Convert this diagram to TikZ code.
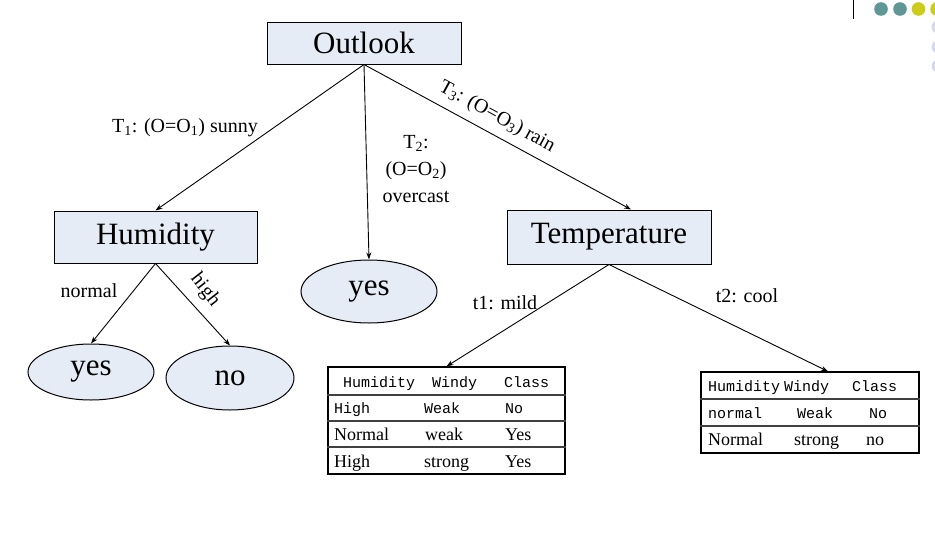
\documentclass[tikz,border=0pt]{standalone}
\usepackage{fontspec}
\setmainfont{Liberation Serif}
\newfontfamily\monof{Liberation Mono}
\usetikzlibrary{shapes.geometric,arrows.meta}
\definecolor{boxfill}{RGB}{230,236,246}
\definecolor{dotteal}{RGB}{95,150,150}
\definecolor{dotyellow}{RGB}{205,205,25}
\definecolor{dotlav}{RGB}{216,216,236}
\begin{document}
\begin{tikzpicture}[x=1pt,y=-1pt,
  box/.style={draw, fill=boxfill, line width=1pt, inner sep=0, font=\fontsize{31}{31}\selectfont},
  leaf/.style={ellipse, draw, fill=boxfill, line width=1pt, inner sep=0, font=\fontsize{31}{31}\selectfont},
  arr/.style={-{Stealth[length=7pt,width=5pt]}, line width=0.9pt},
  lab/.style={font=\fontsize{20}{27}\selectfont, inner sep=0},
  tbl/.style={draw, line width=1.2pt, inner sep=0},
  rule/.style={line width=1.4pt, draw=black!75},
  ttext/.style={font=\fontsize{18}{18}\selectfont, anchor=base west, inner sep=0},
  tmono/.style={font=\monof\fontsize{15}{15}\selectfont, anchor=base west, inner sep=0}]
\useasboundingbox (0,0) rectangle (935,538);
\fill[white] (0,0) rectangle (935,538);

% slide decoration
\draw[line width=1pt] (853,0) -- (853,19);
\fill[dotteal] (881,9) circle (6.8);
\fill[dotteal] (900,9) circle (6.8);
\fill[dotyellow] (918.5,9) circle (6.8);
\fill[dotyellow] (937,9) circle (6.8);
\fill[dotlav] (938,27) circle (6.5);
\fill[dotlav] (938,47) circle (6.5);
\fill[dotlav] (938,66) circle (6.5);

% boxes
\node[box, minimum width=194, minimum height=42] (outlook) at (364,43) {Outlook};
\node[box, minimum width=203, minimum height=52] (humidity) at (155.5,237) {Humidity};
\node[box, minimum width=204, minimum height=54] (temp) at (609,237) {Temperature};

% leaves
\node[leaf, minimum width=136, minimum height=63] (yesm) at (369,291.5) {\raisebox{-3.5pt}[0pt][0pt]{yes}};
\node[leaf, minimum width=126, minimum height=56] (yesl) at (91,372) {\raisebox{-3.5pt}[0pt][0pt]{yes}};
\node[leaf, minimum width=128, minimum height=64] (no) at (230,378) {no};

% tables
\node[tbl, minimum width=237, minimum height=107] (tab1) at (446.5,420.5) {};
\draw[rule] (tab1.west |- 0,395) -- (tab1.east |- 0,395);
\draw[rule] (tab1.west |- 0,421) -- (tab1.east |- 0,421);
\draw[rule] (tab1.west |- 0,447) -- (tab1.east |- 0,447);
\node[tmono] (a11) at (343,387) {Humidity};
\node[tmono] (a12) at (432,387) {Windy};
\node[tmono] (a13) at (504,387) {Class};
\node[tmono] (a21) at (334,413) {High};
\node[tmono] (a22) at (424,413) {Weak};
\node[tmono] (a23) at (505,413) {No};
\node[ttext] (a31) at (334,440) {Normal};
\node[ttext] (a32) at (425,440) {weak};
\node[ttext] (a33) at (505,440) {Yes};
\node[ttext] (a41) at (334,467) {High};
\node[ttext] (a42) at (424,467) {strong};
\node[ttext] (a43) at (505,467) {Yes};

\node[tbl, minimum width=218, minimum height=81] (tab2) at (810,412.5) {};
\draw[rule] (tab2.west |- 0,399) -- (tab2.east |- 0,399);
\draw[rule] (tab2.west |- 0,426) -- (tab2.east |- 0,426);
\node[tmono] (b11) at (708,391) {Humidity};
\node[tmono] (b12) at (784,391) {Windy};
\node[tmono] (b13) at (852,391) {Class};
\node[tmono] (b21) at (708,418) {normal};
\node[tmono] (b22) at (797,418) {Weak};
\node[tmono] (b23) at (869,418) {No};
\node[ttext] (b31) at (708,445) {Normal};
\node[ttext] (b32) at (794,445) {strong};
\node[ttext] (b33) at (866,445) {no};

% connectors
\coordinate (tempin) at ([xshift=22pt]temp.north);
\coordinate (tab2in) at ([xshift=18pt]tab2.north);
\draw[arr] (outlook.south) -- (humidity.north);
\draw[arr] (outlook.south) -- (yesm.north);
\draw[arr] (outlook.south) -- (tempin);
\draw[arr] (humidity.south) -- (yesl.north);
\draw[arr] (humidity.south) -- (no.north);
\draw[arr] (temp.south) -- (tab1.north);
\draw[arr] (temp.south) -- (tab2in);

% labels
\node[lab] (lt1) at (185,128) {T\textsubscript{1}: (O=O\textsubscript{1}) sunny};
\node[lab, align=center] (lt2) at (416,169) {T\textsubscript{2}:\\(O=O\textsubscript{2})\\overcast};
\node[lab, rotate=-28.7] (lt3) at (497,117) {T\textsubscript{3}: (O=O\textsubscript{3}) rain};
\node[lab] (lnormal) at (89,291) {normal};
\node[lab, rotate=-52] (lhigh) at (205,290) {high};
\node[lab] (lmild) at (505,303) {t1: mild};
\node[lab] (lcool) at (747,296) {t2: cool};
\end{tikzpicture}
\end{document}
